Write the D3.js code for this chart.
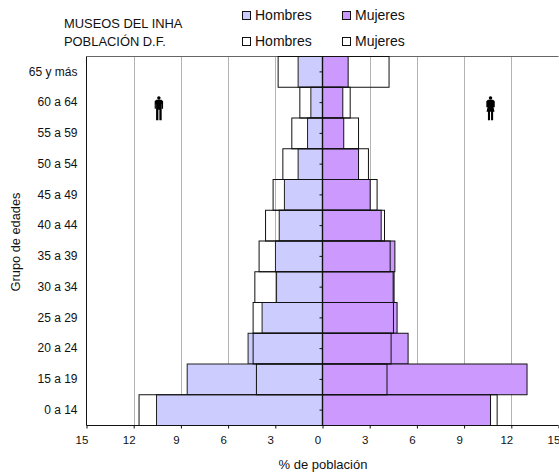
<!DOCTYPE html>
<html><head><meta charset="utf-8">
<script src="https://cdn.jsdelivr.net/npm/d3@7/dist/d3.min.js"></script>
<style>html,body{margin:0;padding:0;background:#fff}svg{display:block}text{font-family:"Liberation Sans",Arial,sans-serif;fill:#111}</style>
</head><body><div id="c"></div>
<script>
const categories=["65 y más","60 a 64","55 a 59","50 a 54","45 a 49","40 a 44","35 a 39","30 a 34","25 a 29","20 a 24","15 a 19","0 a 14"];
const museoHombres=[1.55,0.74,0.95,1.55,2.42,2.75,2.99,2.92,3.84,4.73,8.6,10.55];
const museoMujeres=[1.63,1.29,1.35,2.29,3.03,3.73,4.6,4.55,4.74,5.44,13.0,10.68];
const dfHombres=[2.82,1.44,1.95,2.52,3.14,3.62,4.03,4.3,4.41,4.41,4.2,11.66];
const dfMujeres=[4.23,1.76,2.29,2.92,3.47,3.94,4.3,4.49,4.51,4.36,4.1,11.1];
const xTicks=[-15,-12,-9,-6,-3,0,3,6,9,12,15];
const titleLines=["MUSEOS DEL INHA","POBLACIÓN D.F."];
const blue="#ccccff",purple="#cc99ff";

const W=559,H=475,L=86.5,R=558.5,T=56.5,B=425.5;
const svg=d3.select("#c").append("svg").attr("width",W).attr("height",H);
const x=d3.scaleLinear().domain([-15,15]).range([L,R]);
const y=d3.scaleBand().domain(categories).range([T,B]).padding(0);

// grid
svg.append("g").selectAll("line").data(xTicks.filter(d=>d!==0&&Math.abs(d)!==15)).join("line")
 .attr("x1",d=>Math.round(x(d))+.5).attr("x2",d=>Math.round(x(d))+.5).attr("y1",T).attr("y2",B)
 .attr("stroke","#666").attr("stroke-width",1).attr("stroke-dasharray","1,1");
svg.append("line").attr("x1",L).attr("x2",R).attr("y1",T).attr("y2",T).attr("stroke","#666").attr("stroke-width",1);

// coloured bars
function bars(vals,sign,fill,stroke){
 svg.append("g").selectAll("rect").data(vals).join("rect")
  .attr("x",d=>sign<0?x(-d):x(0))
  .attr("width",d=>Math.abs(x(d)-x(0)))
  .attr("y",(d,i)=>y(categories[i]))
  .attr("height",y.bandwidth())
  .attr("fill",fill).attr("stroke",stroke).attr("stroke-width",1);
}
bars(museoHombres,-1,blue,"#222");
bars(museoMujeres,1,purple,"#111");
bars(dfHombres,-1,"none","#111");
bars(dfMujeres,1,"none","#111");

// axes
const ax=svg.append("g").attr("transform",`translate(0,${B})`)
 .call(d3.axisBottom(x).tickValues(xTicks).tickSize(3).tickPadding(7).tickFormat(d=>Math.abs(d)));
ax.selectAll("path").attr("stroke","#111").attr("d",`M${L},0H${R}`);
ax.selectAll("line").attr("stroke","#111");
ax.selectAll("text").attr("font-size",11.5).attr("dx",-5).style("font-family",'"Liberation Sans",Arial,sans-serif').attr("fill","#111");

const ay=svg.append("g").attr("transform",`translate(${L},0)`)
 .call(d3.axisLeft(y).tickSize(0).tickPadding(9));
ay.selectAll("path").attr("stroke","#111").attr("d",`M0,${T}V${B}`);
ay.selectAll("text").attr("font-size",12).style("font-family",'"Liberation Sans",Arial,sans-serif').attr("fill","#111");

const az=svg.append("g").attr("transform",`translate(${x(0)},0)`)
 .call(d3.axisLeft(y).tickSize(3).tickFormat(""));
az.selectAll("path").attr("stroke","#111").attr("stroke-width",1.4).attr("d",`M0,${T}V${B}`);
az.selectAll("line").attr("stroke","#111");

// axis titles
svg.append("text").attr("x",323).attr("y",469).attr("text-anchor","middle").attr("font-size",13).text("% de población");
svg.append("text").attr("transform","translate(20,242) rotate(-90)").attr("text-anchor","middle").attr("font-size",12.8).text("Grupo de edades");

// title
svg.append("g").selectAll("text").data(titleLines).join("text")
 .attr("x",64).attr("y",(d,i)=>27.5+i*18).attr("font-size",12.9).text(d=>d);

// legend
const legend=[[242,11,blue,"Hombres"],[342,11,purple,"Mujeres"],[242,37,"#fff","Hombres"],[342,37,"#fff","Mujeres"]];
const lg=svg.append("g").selectAll("g").data(legend).join("g").attr("transform",d=>`translate(${d[0]},${d[1]})`);
lg.append("rect").attr("x",0.5).attr("y",0.5).attr("width",8).attr("height",8).attr("fill",d=>d[2]).attr("stroke","#111");
lg.append("text").attr("x",13).attr("y",9).attr("font-size",14).text(d=>d[3]);

// pictograms
const man="M0,-12a1.7,1.7 0 1 1 -0.01,0ZM-2.6,-8.3H2.6L4.2,-7V0.5H3V-4H2.8V12H0.5V1.5H-0.5V12H-2.8V-4H-3V0.5H-4.2V-7Z";
const woman="M0,-12a1.7,1.7 0 1 1 -0.01,0ZM-2.6,-8.3H2.6L4.2,-7V-1H3L4,3.5H2.6V12H0.5V3.5H-0.5V12H-2.6V3.5H-4L-3,-1H-4.2V-7Z";
const iconY=y("60 a 64")+y.bandwidth()/2+5.5;
svg.append("path").attr("d",man).attr("transform",`translate(${x(-10.4)},${iconY})`).attr("fill","#000");
svg.append("path").attr("d",woman).attr("transform",`translate(${x(10.68)},${iconY})`).attr("fill","#000");
</script></body></html>
